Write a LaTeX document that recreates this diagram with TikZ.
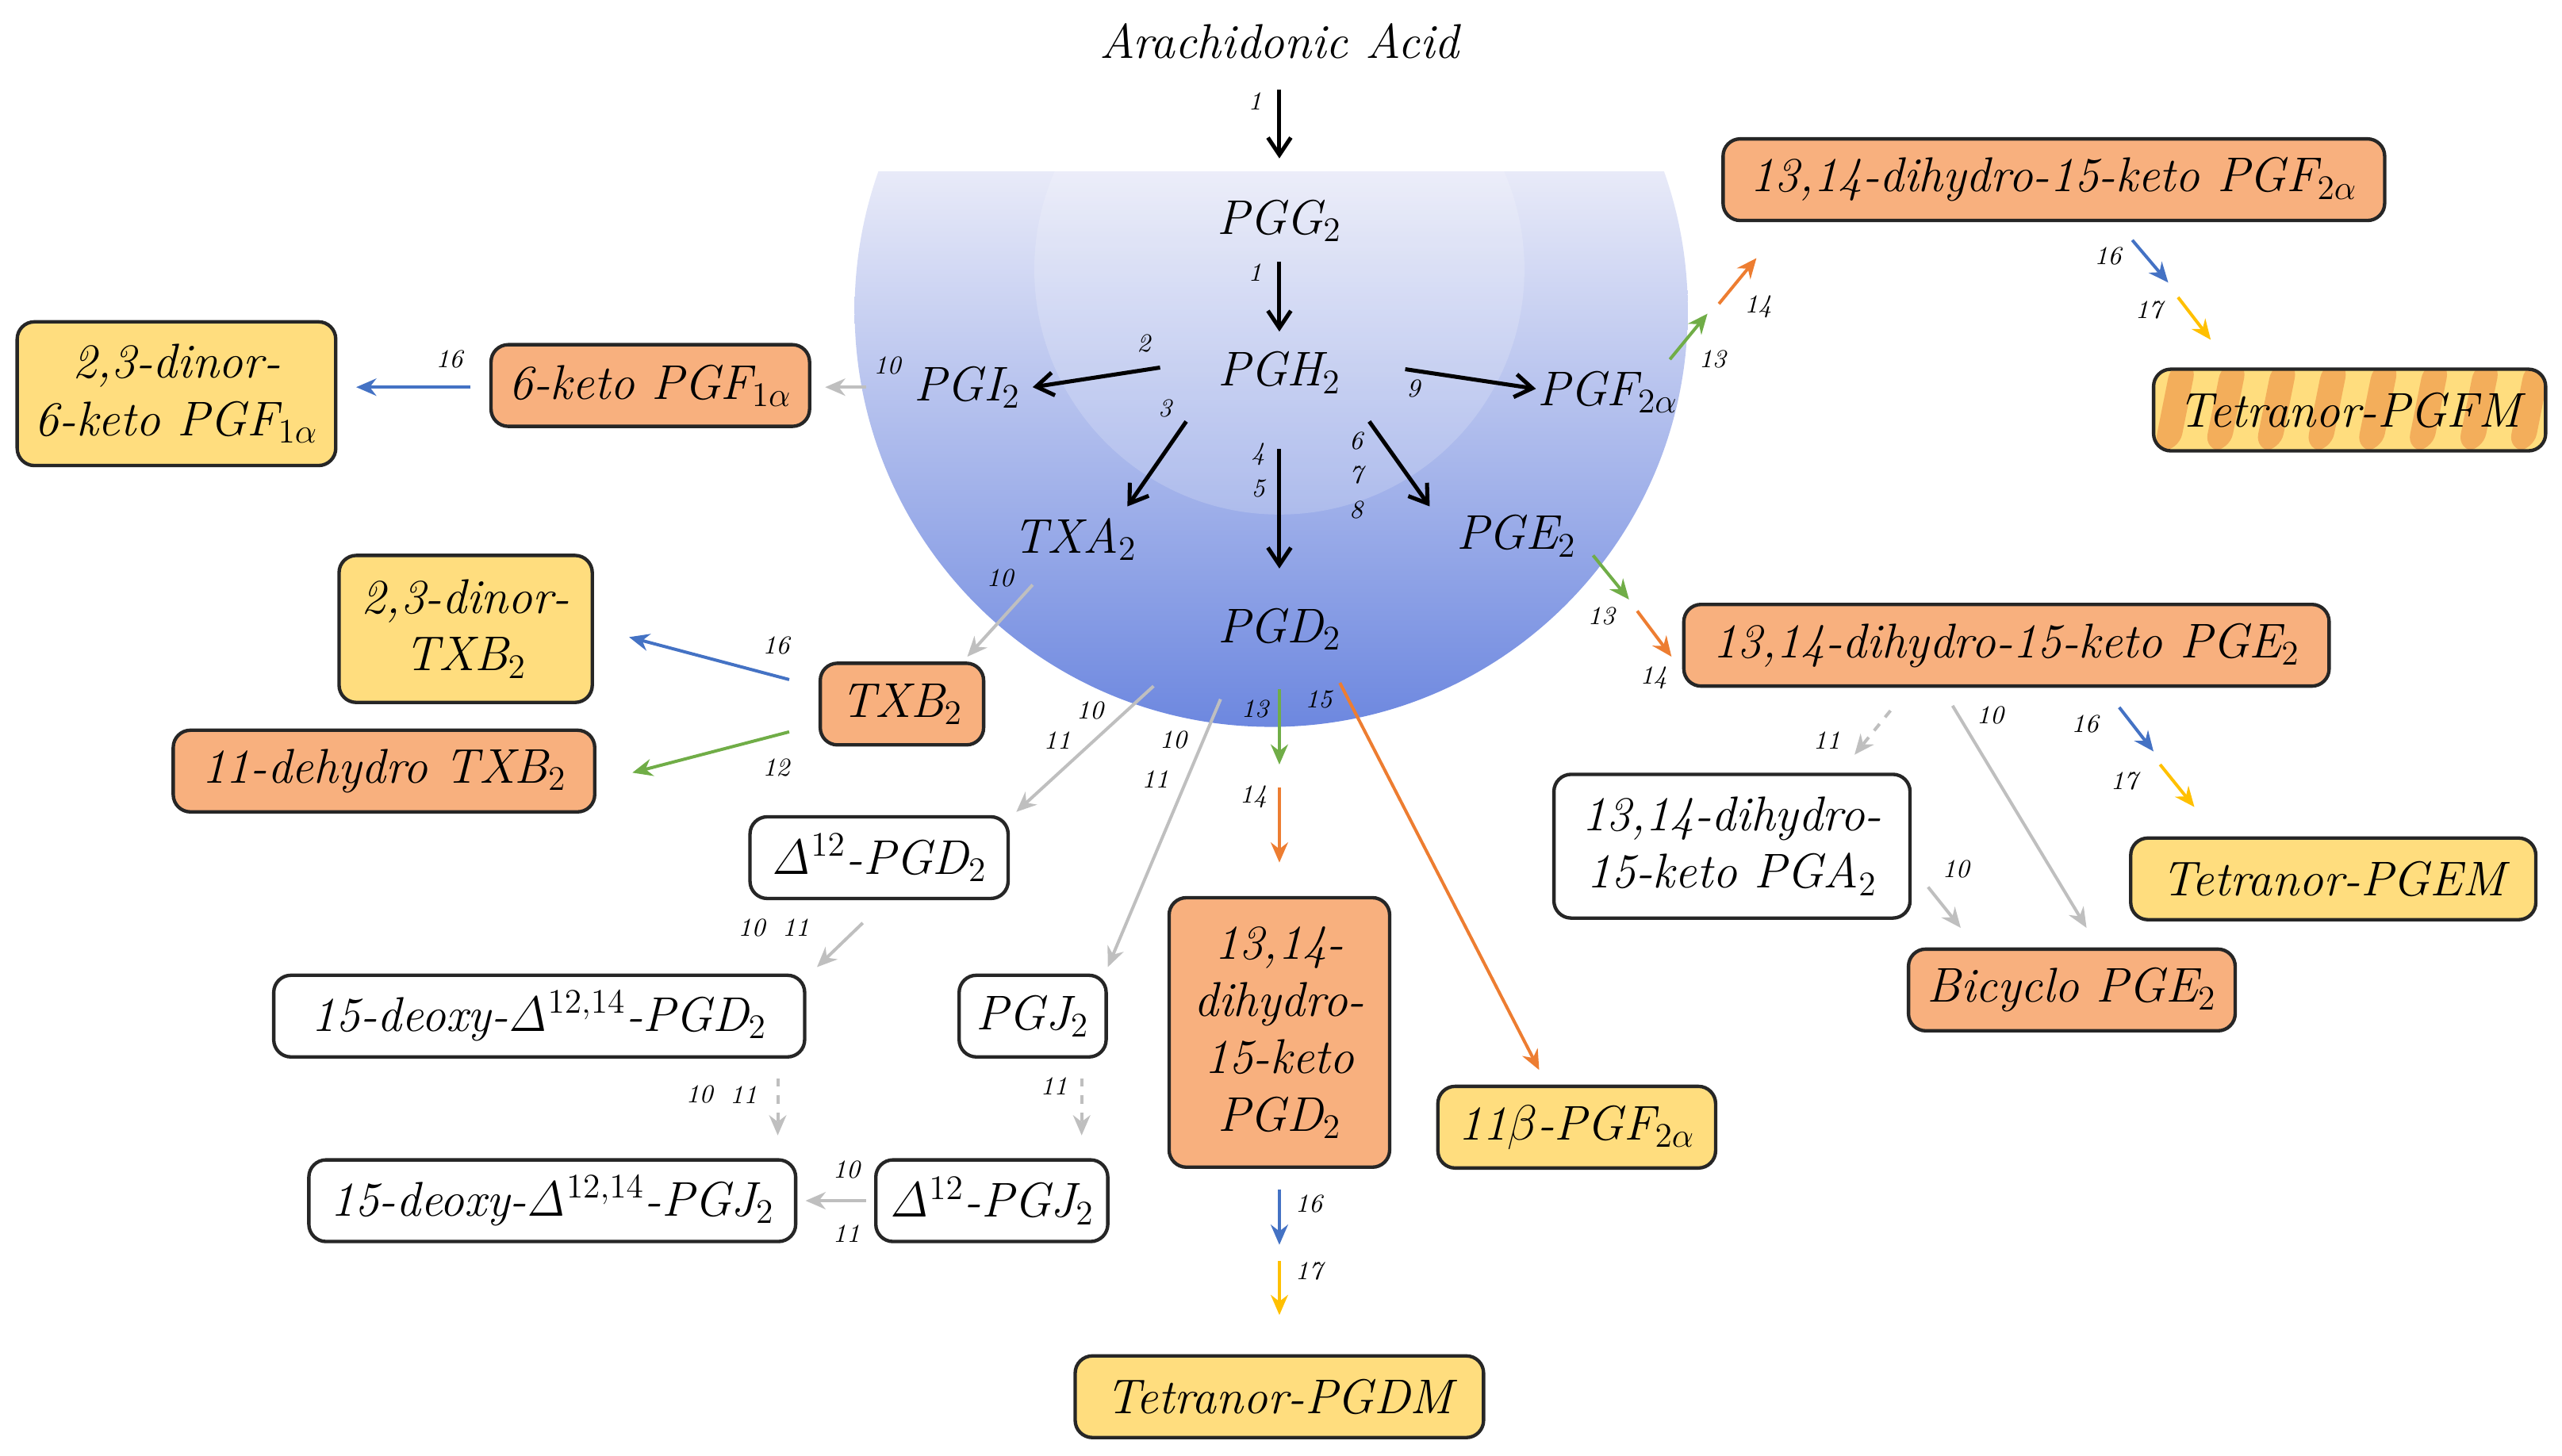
\documentclass[tikz,border=0pt]{standalone}
\usetikzlibrary{arrows.meta, calc}
\definecolor{boxOrange}{HTML}{F8B07E}
\definecolor{boxYellow}{HTML}{FFDD7E}
\definecolor{stripeOrange}{HTML}{F3AE5B}
\definecolor{arrOrange}{HTML}{ED7D31}
\definecolor{arrGreen}{HTML}{70AD47}
\definecolor{arrBlue}{HTML}{4472C4}
\definecolor{arrYellow}{HTML}{FFC000}
\definecolor{arrGray}{HTML}{BFBFBF}
\definecolor{bowlTop}{HTML}{E8EAF8}
\definecolor{bowlBottom}{HTML}{6B86DF}
\tikzset{
    MainText/.style={font=\fontsize{17}{20}\selectfont\itshape},
    NumText/.style={font=\fontsize{9}{10}\selectfont\itshape},
    BoxBase/.style={MainText, draw=black!85, line width=1.2pt, rounded corners=6pt, minimum height=1cm, align=center, inner sep=3pt},
    OrangeBox/.style={BoxBase, fill=boxOrange},
    YellowBox/.style={BoxBase, fill=boxYellow},
    WhiteBox/.style={BoxBase, fill=white},
    StripeBox/.style={BoxBase, fill=boxYellow, path picture={
        \foreach \i in {-2,...,9} {
            \fill[stripeOrange] ($(path picture bounding box.south west)+(\i*0.62cm,0)$) -- ++(0.31cm,0) -- ++(0.22cm,1.1cm) -- ++(-0.31cm,0) -- cycle;
        }}},
    Step/.style={-{Stealth[length=7pt, width=6pt]}, line width=1.1pt},
    BlackStep/.style={Step, black, line width=1.4pt, -{Straight Barb[length=6pt, width=8pt]}},
    GrayStep/.style={Step, arrGray},
    DashStep/.style={Step, arrGray, dashed},
    GreenStep/.style={Step, arrGreen},
    OrangeStep/.style={Step, arrOrange},
    BlueStep/.style={Step, arrBlue},
    YellowStep/.style={Step, arrYellow}
}
% connector between two named points
\newcommand\flow[4]{\coordinate (#2s) at (#3); \coordinate (#2e) at (#4); \draw[#1] (#2s) -- (#2e);}
\begin{document}
\begin{tikzpicture}[x=0.02cm, y=-0.02cm]
    \useasboundingbox (0,0) rectangle (1568,891);

    % bowl
    \begin{scope}
        \clip (778,190) circle[radius=5.1cm];
        \shade[top color=bowlTop, bottom color=bowlBottom] (520,105) rectangle (1040,450);
        \clip (520,105) rectangle (1040,450);
        \fill[white, opacity=0.18] (783,165) circle[radius=3cm];
    \end{scope}

    \node[MainText] (aa) at (783,25) {Arachidonic Acid};
    \node[MainText] (pgg) at (783,135) {PGG$_2$};
    \node[MainText] (pgh) at (783,228) {PGH$_2$};
    \node[MainText] (pgi) at (592,237) {PGI$_2$};
    \node[MainText] (pgf) at (984,240) {PGF$_{2\alpha}$};
    \node[MainText] (txa) at (658,330) {TXA$_2$};
    \node[MainText] (pge) at (928,328) {PGE$_2$};
    \node[MainText] (pgd) at (783,385) {PGD$_2$};

    % boxes
    \node[OrangeBox, minimum width=3.9cm] (ketof) at (398,236) {6-keto PGF$_{1\alpha}$};
    \node[YellowBox, minimum width=3.9cm, minimum height=1.76cm] (dinorf) at (108,241) {2,3-dinor-\\6-keto PGF$_{1\alpha}$};
    \node[OrangeBox, minimum width=8.1cm] (dhkf) at (1257,110) {13,14-dihydro-15-keto PGF$_{2\alpha}$};
    \node[StripeBox, minimum width=4.8cm] (pgfm) at (1438,251) {Tetranor-PGFM};
    \node[OrangeBox, minimum width=7.9cm] (dhke) at (1228,395) {13,14-dihydro-15-keto PGE$_2$};
    \node[WhiteBox, minimum width=4.36cm, minimum height=1.76cm] (dhka) at (1060,518) {13,14-dihydro-\\15-keto PGA$_2$};
    \node[OrangeBox, minimum width=4cm] (bicy) at (1268,606) {Bicyclo PGE$_2$};
    \node[YellowBox, minimum width=4.96cm] (pgem) at (1428,538) {Tetranor-PGEM};
    \node[OrangeBox, minimum width=2cm] (txb) at (552,431) {TXB$_2$};
    \node[YellowBox, minimum width=3.1cm, minimum height=1.8cm] (dinortx) at (285,385) {2,3-dinor-\\TXB$_2$};
    \node[OrangeBox, minimum width=5.16cm] (dehtx) at (235,472) {11-dehydro TXB$_2$};
    \node[WhiteBox, minimum width=3.16cm] (dpgd) at (538,525) {$\mathit{\Delta}^{12}$-PGD$_2$};
    \node[WhiteBox, minimum width=6.5cm] (ddpgd) at (330,622) {15-deoxy-$\mathit{\Delta}^{12,14}$-PGD$_2$};
    \node[WhiteBox, minimum width=5.96cm] (ddpgj) at (338,735) {15-deoxy-$\mathit{\Delta}^{12,14}$-PGJ$_2$};
    \node[WhiteBox, minimum width=1.8cm] (pgj) at (632,622) {PGJ$_2$};
    \node[WhiteBox, minimum width=2.84cm] (dpgj) at (607,735) {$\mathit{\Delta}^{12}$-PGJ$_2$};
    \node[OrangeBox, minimum width=2.7cm, minimum height=3.3cm] (dhkd) at (783,632) {13,14-\\dihydro-\\15-keto\\PGD$_2$};
    \node[YellowBox, minimum width=5cm] (pgdm) at (783,855) {Tetranor-PGDM};
    \node[YellowBox, minimum width=3.4cm] (bpgf) at (965,690) {11$\beta$-PGF$_{2\alpha}$};

    % core steps
    \flow{BlackStep}{a1}{783,55}{783,97}
    \flow{BlackStep}{a2}{783,160}{783,203}
    \flow{BlackStep}{a3}{710,225}{632,237}
    \flow{BlackStep}{a4}{860,226}{940,238}
    \flow{BlackStep}{a5}{726,258}{690,310}
    \flow{BlackStep}{a6}{783,275}{783,348}
    \flow{BlackStep}{a7}{838,258}{875,310}

    % branches
    \flow{GrayStep}{b1}{530,237}{505,237}
    \flow{BlueStep}{b2}{288,237}{218,237}
    \flow{GreenStep}{b3}{1022,220}{1045,192}
    \flow{OrangeStep}{b4}{1052,186}{1075,158}
    \flow{BlueStep}{b5}{1305,147}{1327,173}
    \flow{YellowStep}{b6}{1333,182}{1353,208}
    \flow{GreenStep}{b7}{975,340}{997,367}
    \flow{OrangeStep}{b8}{1002,374}{1023,402}
    \flow{DashStep}{b9}{1157,435}{1135,462}
    \flow{GrayStep}{b10}{1180,543}{1200,568}
    \flow{GrayStep}{b11}{1195,432}{1277,568}
    \flow{BlueStep}{b12}{1297,433}{1318,460}
    \flow{YellowStep}{b13}{1322,468}{1343,494}
    \flow{GrayStep}{b14}{632,358}{592,402}
    \flow{BlueStep}{b15}{483,416}{385,390}
    \flow{GreenStep}{b16}{483,448}{387,473}
    \flow{GrayStep}{b17}{706,420}{622,497}
    \flow{GrayStep}{b18}{528,565}{500,592}
    \flow{DashStep}{b19}{476,660}{476,695}
    \flow{GrayStep}{b20}{747,428}{678,592}
    \flow{DashStep}{b21}{662,660}{662,695}
    \flow{GrayStep}{b22}{530,735}{493,735}
    \flow{GreenStep}{b23}{783,422}{783,468}
    \flow{OrangeStep}{b24}{783,482}{783,528}
    \flow{BlueStep}{b25}{783,728}{783,762}
    \flow{YellowStep}{b26}{783,772}{783,805}
    \flow{OrangeStep}{b27}{820,418}{942,655}

    % enzyme numbers
    \foreach \t/\x/\y in {1/768/62, 1/768/167, 2/700/210, 9/865/238, 3/713/250,
        4/770/278, 5/770/299, 6/830/270, 7/830/291, 8/830/312,
        10/543/224, 16/275/220, 13/1048/220, 14/1076/188, 16/1290/157, 17/1315/190,
        13/980/377, 14/1012/415, 11/1118/453, 10/1197/532, 10/1218/438, 16/1276/443, 17/1300/478,
        10/612/354, 16/475/395, 12/475/470,
        10/667/435, 11/647/453, 10/460/568, 11/487/568, 10/428/670, 11/455/670,
        10/718/453, 11/707/477, 11/645/665, 10/518/716, 11/518/755,
        13/768/434, 14/767/488, 16/801/737, 17/801/778, 15/807/428}
        \node[NumText] at (\x,\y) {\t};
\end{tikzpicture}
\end{document}
